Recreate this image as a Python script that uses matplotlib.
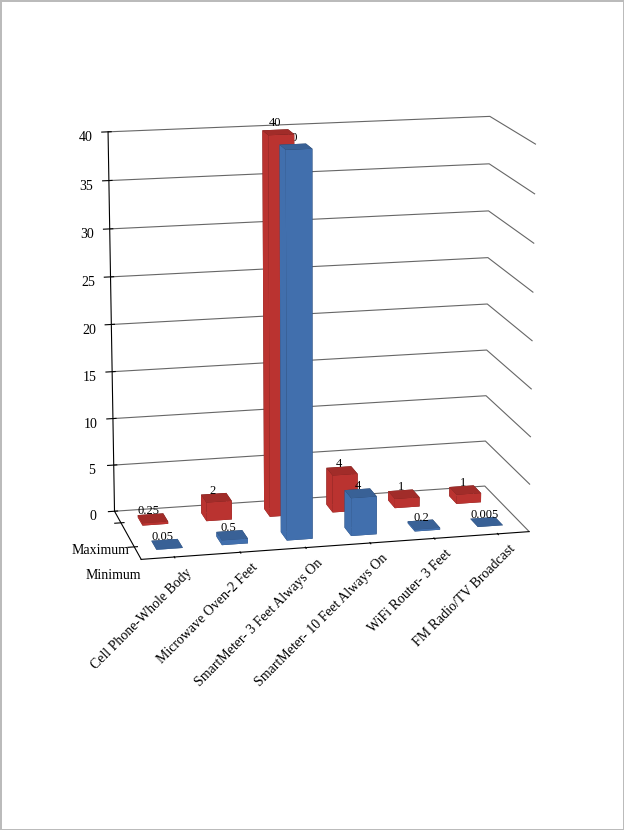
import numpy as np
import matplotlib
matplotlib.use("Agg")
import matplotlib.pyplot as plt
from mpl_toolkits.mplot3d import proj3d

plt.rcParams['font.family'] = ['Liberation Serif', 'DejaVu Serif']

categories = ["Cell Phone-Whole Body", "Microwave Oven-2 Feet", "SmartMeter- 3 Feet Always On",
              "SmartMeter- 10 Feet Always On", "WiFi Router- 3 Feet", "FM Radio/TV Broadcast"]
series = ["Minimum", "Maximum"]
minimum = [0.05, 0.5, 40, 4, 0.2, 0.005]
maximum = [0.25, 2, 40, 4, 1, 1]
min_labels = ["0.05", "0.5", "40", "4", "0.2", "0.005"]
max_labels = ["0.25", "2", "40", "4", "1", "1"]
colors = ["#4a7ec4", "#d23a36"]

fig = plt.figure(figsize=(6.24, 8.3), dpi=100)
fig.patch.set_edgecolor("#bbbbbb")
fig.patch.set_linewidth(2)
ax = fig.add_axes([0.0, 0.25, 1.0, 0.68], projection="3d")
ax.patch.set_alpha(0)
ax.view_init(elev=14, azim=-103)
ax.set_box_aspect((2.2, 0.9, 2.2))

n = len(categories)
w, d = 0.4, 0.35
for j, (vals, labs) in enumerate([(minimum, min_labels), (maximum, max_labels)]):
    for i in range(n):
        ax.bar3d(i - w / 2, j - d / 2, 0, w, d, vals[i], color=colors[j],
                 shade=True, edgecolor=None)
        ax.text(i - 0.1, j - d / 2, vals[i] + 0.6, labs[i], fontsize=9,
                ha="center", va="bottom", zorder=10)

ax.set_xlim(-0.5, n - 0.5)
ax.set_ylim(-0.5, 1.5)
ax.set_zlim(0, 40)
ax.set_zticks(range(0, 41, 5))
ax.set_xticks(range(n))
ax.set_xticklabels([])
ax.set_yticks([0, 1])
ax.set_yticklabels(series, fontsize=10)
ax.tick_params(axis="z", labelsize=10)

for axis in (ax.xaxis, ax.yaxis, ax.zaxis):
    axis.set_pane_color((1, 1, 1, 0))
    axis._axinfo["grid"]["color"] = "#666666"
    axis._axinfo["grid"]["linewidth"] = 0.8
ax.xaxis._axinfo["grid"]["linewidth"] = 0
ax.yaxis._axinfo["grid"]["linewidth"] = 0
ax.grid(True)

# category labels placed in screen space, rotated like the original
fig.canvas.draw()
for i, c in enumerate(categories):
    xs, ys, _ = proj3d.proj_transform(i + 0.15, -0.55, 0, ax.get_proj())
    px, py = ax.transData.transform((xs, ys))
    fx, fy = fig.transFigure.inverted().transform((px, py))
    fig.text(fx, fy - 0.01, c, fontsize=10, rotation=45, ha="right", va="top",
             rotation_mode="anchor")

fig.savefig("out.png", dpi=100)
